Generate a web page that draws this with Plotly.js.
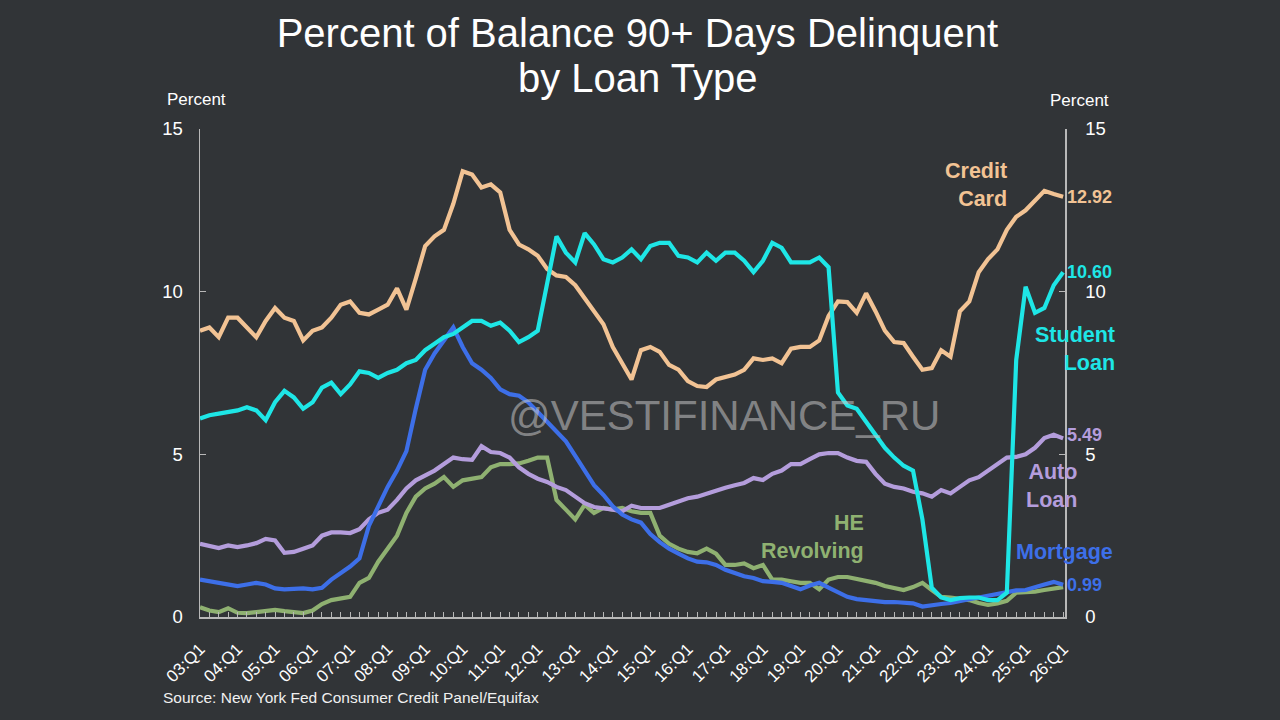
<!DOCTYPE html>
<html>
<head>
<meta charset="utf-8">
<script src="https://cdn.plot.ly/plotly-3.0.1.min.js"></script>
<style>
html,body{margin:0;padding:0;background:#313437;}
#chart{width:1280px;height:720px;}
</style>
</head>
<body>
<div id="chart"></div>
<script>
// Quarterly 2003:Q1 ... 2026:Q1 (index 0..92)
const yearLabels = ["03:Q1","04:Q1","05:Q1","06:Q1","07:Q1","08:Q1","09:Q1","10:Q1","11:Q1","12:Q1","13:Q1","14:Q1","15:Q1","16:Q1","17:Q1","18:Q1","19:Q1","20:Q1","21:Q1","22:Q1","23:Q1","24:Q1","25:Q1","26:Q1"];

const creditCard = [8.8,8.9,8.6,9.2,9.2,8.9,8.6,9.1,9.5,9.2,
  9.1,8.5,8.8,8.9,9.2,9.6,9.7,9.35,9.3,9.45,
  9.6,10.1,9.45,10.4,11.4,11.7,11.9,12.7,13.7,13.6,
  13.2,13.3,13.05,11.9,11.45,11.3,11.1,10.7,10.5,10.45,
  10.2,9.8,9.4,9.0,8.3,7.8,7.3,8.2,8.3,8.15,
  7.75,7.6,7.25,7.1,7.07,7.3,7.38,7.45,7.6,7.95,
  7.9,7.95,7.8,8.25,8.3,8.3,8.5,9.25,9.7,9.68,
  9.35,9.95,9.4,8.8,8.45,8.42,8.0,7.6,7.65,8.2,
  8.0,9.4,9.7,10.6,11.0,11.3,11.9,12.3,12.5,12.8,
  13.1,13.0,12.92];

const studentLoan = [6.1,6.2,6.25,6.3,6.35,6.45,6.35,6.05,6.6,6.95,
  6.75,6.4,6.6,7.05,7.2,6.85,7.15,7.55,7.5,7.35,
  7.5,7.6,7.8,7.9,8.2,8.4,8.6,8.7,8.9,9.1,
  9.1,8.95,9.05,8.8,8.45,8.6,8.8,10.2,11.7,11.2,
  10.9,11.8,11.45,11.0,10.9,11.05,11.3,11.0,11.4,11.5,
  11.5,11.1,11.05,10.9,11.2,10.95,11.2,11.2,10.95,10.6,
  10.95,11.5,11.35,10.9,10.9,10.9,11.05,10.75,6.9,6.5,
  6.4,6.0,5.6,5.2,4.9,4.65,4.5,3.0,0.9,0.6,
  0.52,0.58,0.6,0.6,0.52,0.52,0.75,7.9,10.15,9.35,
  9.5,10.2,10.6];

const mortgage = [1.15,1.1,1.05,1.0,0.95,1.0,1.05,1.0,0.88,0.85,
  0.87,0.88,0.85,0.9,1.15,1.35,1.55,1.8,2.8,3.4,
  4.0,4.5,5.1,6.4,7.6,8.1,8.5,8.9,8.3,7.8,
  7.6,7.35,7.0,6.85,6.8,6.6,6.3,6.0,5.7,5.4,
  4.95,4.5,4.05,3.75,3.4,3.15,3.0,2.9,2.55,2.3,
  2.1,1.95,1.8,1.7,1.68,1.6,1.45,1.35,1.25,1.2,
  1.1,1.08,1.05,0.95,0.85,0.97,1.05,0.9,0.75,0.62,
  0.55,0.52,0.48,0.46,0.46,0.44,0.42,0.32,0.37,0.4,
  0.43,0.5,0.55,0.6,0.65,0.72,0.78,0.82,0.83,0.9,
  1.0,1.08,0.99];

const autoLoan = [2.25,2.2,2.12,2.2,2.15,2.2,2.27,2.4,2.35,1.97,
  2.0,2.1,2.2,2.5,2.6,2.6,2.58,2.7,3.0,3.2,
  3.3,3.6,3.95,4.2,4.35,4.5,4.7,4.9,4.85,4.83,
  5.25,5.07,5.04,4.9,4.6,4.4,4.25,4.15,4.0,3.9,
  3.7,3.5,3.38,3.35,3.3,3.25,3.42,3.35,3.35,3.35,
  3.45,3.55,3.65,3.7,3.8,3.9,3.97,4.05,4.12,4.27,
  4.21,4.4,4.5,4.7,4.7,4.85,5.0,5.04,5.04,4.9,
  4.8,4.77,4.4,4.1,4.0,3.95,3.85,3.8,3.7,3.9,
  3.8,4.0,4.2,4.3,4.5,4.7,4.9,4.92,5.0,5.2,
  5.5,5.6,5.49];

const heRevolving = [0.3,0.2,0.15,0.27,0.13,0.12,0.15,0.18,0.22,0.18,
  0.14,0.12,0.2,0.4,0.52,0.58,0.62,1.05,1.2,1.7,
  2.1,2.5,3.2,3.7,3.95,4.1,4.3,4.0,4.2,4.25,
  4.3,4.6,4.7,4.7,4.72,4.8,4.9,4.9,3.6,3.3,
  3.0,3.45,3.2,3.35,3.3,3.35,3.25,3.2,3.2,2.5,
  2.25,2.1,2.0,1.96,2.1,1.95,1.6,1.6,1.65,1.5,
  1.6,1.15,1.15,1.1,1.05,1.05,0.85,1.15,1.23,1.23,
  1.18,1.1,1.05,0.95,0.88,0.83,0.92,1.05,0.83,0.62,
  0.6,0.57,0.52,0.43,0.37,0.42,0.5,0.75,0.75,0.78,
  0.83,0.88,0.92];

const colors = {cc:"#f2c394", sl:"#1ee6e6", mort:"#3d6fe8", auto:"#b49ddc", he:"#8fb171"};
const font = "Liberation Sans, Arial, sans-serif";

const xIdx = creditCard.map((_, i) => i);
const tickVals = yearLabels.map((_, i) => i * 4);

function line(y, color) {
  return {x: xIdx, y: y, type: "scatter", mode: "lines",
    line: {color: color, width: 4.2}, hoverinfo: "skip"};
}

const traces = [
  line(heRevolving, colors.he),
  line(autoLoan, colors.auto),
  line(mortgage, colors.mort),
  line(creditCard, colors.cc),
  line(studentLoan, colors.sl),
  {x: [0], y: [0], yaxis: "y2", type: "scatter", mode: "markers",
   marker: {opacity: 0}, hoverinfo: "skip"}
];

const last = xIdx.length - 1;
function endLabel(val, color, yshift) {
  return {x: last, y: val, xref: "x", yref: "y", text: val.toFixed(2), showarrow: false,
    xanchor: "left", yanchor: "middle", xshift: 2, yshift: yshift || 0,
    font: {family: font, size: 18, color: color, weight: "bold"}};
}
function nameLabel(text, px, py, color) {
  return {x: (px - 200) / 865, y: (617 - py) / 488, xref: "paper", yref: "paper",
    text: text, showarrow: false, xanchor: "right", yanchor: "middle", align: "right",
    font: {family: font, size: 21.5, color: color, weight: "bold"}};
}

const annotations = [
  endLabel(creditCard[last], colors.cc),
  endLabel(studentLoan[last], colors.sl),
  endLabel(autoLoan[last], colors.auto, 3),
  endLabel(mortgage[last], colors.mort),
  nameLabel("Credit<br>Card", 1009, 185, colors.cc),
  nameLabel("Student<br>Loan", 1117, 349, colors.sl),
  nameLabel("Auto<br>Loan", 1079, 486, colors.auto),
  nameLabel("HE<br>Revolving", 866, 537, colors.he),
  nameLabel("Mortgage", 1115, 552, colors.mort),
  {x: (637 - 200) / 865, y: (617 - 78) / 488, xref: "paper", yref: "paper", text: "by Loan Type",
   showarrow: false, xanchor: "center", yanchor: "middle", font: {family: font, size: 40, color: "#ffffff"}},
  {x: (196 - 200) / 865, y: (617 - 99) / 488, xref: "paper", yref: "paper", text: "Percent",
   showarrow: false, xanchor: "center", yanchor: "middle", font: {family: font, size: 17, color: "#ffffff"}},
  {x: (1079 - 200) / 865, y: (617 - 100) / 488, xref: "paper", yref: "paper", text: "Percent",
   showarrow: false, xanchor: "center", yanchor: "middle", font: {family: font, size: 17, color: "#ffffff"}},
  {x: (724 - 200) / 865, y: (617 - 415) / 488, xref: "paper", yref: "paper", text: "@VESTIFINANCE_RU",
   showarrow: false, xanchor: "center", yanchor: "middle",
   font: {family: font, size: 42, color: "rgba(200,200,200,0.55)"}},
  {x: (161 - 200) / 865, y: (617 - 697) / 488, xref: "paper", yref: "paper",
   text: "Source: New York Fed Consumer Credit Panel/Equifax",
   showarrow: false, xanchor: "left", yanchor: "middle", font: {family: font, size: 15.5, color: "#f0f0f0"}}
];

const axisCommon = {
  range: [0, 15], tickvals: [0, 5, 10, 15], showgrid: false, zeroline: false,
  showline: true, linecolor: "#b8b8b8", linewidth: 1.5,
  ticks: "inside", ticklen: 6, tickcolor: "#b8b8b8",
  tickfont: {family: font, size: 18.5, color: "#ffffff"}, fixedrange: true
};

const layout = {
  width: 1280, height: 720,
  paper_bgcolor: "#313437", plot_bgcolor: "rgba(0,0,0,0)",
  margin: {l: 200, r: 215, t: 129, b: 103},
  showlegend: false,
  title: {text: "Percent of Balance 90+ Days Delinquent",
    x: 0.498, xanchor: "center", y: 1 - 33 / 720, yanchor: "middle", yref: "container",
    font: {family: font, size: 40, color: "#ffffff"}},
  xaxis: {
    range: [0, 92.2], tickvals: tickVals, ticktext: yearLabels, tickangle: -45,
    showgrid: false, zeroline: false, showline: true, linecolor: "#b8b8b8", linewidth: 1.5,
    ticks: "inside", ticklen: 5, tickcolor: "#b8b8b8", ticklabelstandoff: 14,
    minor: {dtick: 1, tick0: 0, ticks: "inside", ticklen: 5, tickcolor: "#b8b8b8", showgrid: false},
    tickfont: {family: font, size: 17, color: "#ffffff"}, fixedrange: true
  },
  yaxis: Object.assign({}, axisCommon, {side: "left", ticklabelstandoff: 12}),
  yaxis2: Object.assign({}, axisCommon, {side: "right", overlaying: "y", ticklabelstandoff: 15}),
  annotations: annotations
};

Plotly.newPlot("chart", traces, layout, {staticPlot: true, displayModeBar: false});
</script>
</body>
</html>
